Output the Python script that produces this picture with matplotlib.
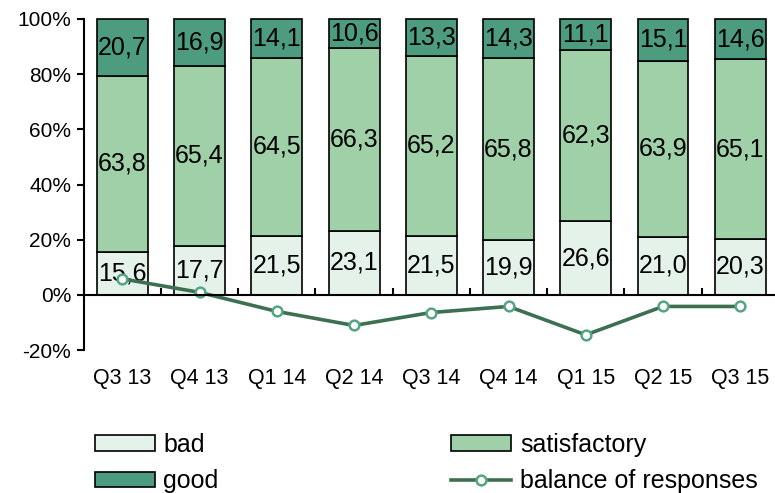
import numpy as np
import matplotlib.pyplot as plt

plt.rcParams['font.family'] = ['Liberation Sans', 'DejaVu Sans']

quarters = ["Q3 13", "Q4 13", "Q1 14", "Q2 14", "Q3 14", "Q4 14", "Q1 15", "Q2 15", "Q3 15"]
bad = [15.6, 17.7, 21.5, 23.1, 21.5, 19.9, 26.6, 21.0, 20.3]
satisfactory = [63.8, 65.4, 64.5, 66.3, 65.2, 65.8, 62.3, 63.9, 65.1]
good = [20.7, 16.9, 14.1, 10.6, 13.3, 14.3, 11.1, 15.1, 14.6]
balance = [5.8, 0.9, -6.0, -11.1, -6.4, -4.2, -14.5, -4.2, -4.2]

C_BAD = "#e4f2ea"
C_SAT = "#a0d0a8"
C_GOOD = "#4e9c80"
C_LINE = "#3c7050"

fig = plt.figure(figsize=(7.75, 4.93), dpi=100)
ax = fig.add_axes([0.108, 0.29, 0.892, 0.6715])

x = np.arange(len(quarters))
w = 0.66
bad = np.array(bad)
satisfactory = np.array(satisfactory)
good = np.array(good)

b1 = ax.bar(x, bad, w, color=C_BAD, edgecolor="black", linewidth=1.2, label="bad", clip_on=False)
b2 = ax.bar(x, satisfactory, w, bottom=bad, color=C_SAT, edgecolor="black", linewidth=1.2,
            label="satisfactory", clip_on=False)
b3 = ax.bar(x, good, w, bottom=bad + satisfactory, color=C_GOOD, edgecolor="black", linewidth=1.2,
            label="good", clip_on=False)

for bars, vals in [(b1, bad), (b2, satisfactory), (b3, good)]:
    ax.bar_label(bars, labels=[f"{v:.1f}".replace(".", ",") for v in vals],
                 label_type="center", fontsize=18, color="black")

ln, = ax.plot(x, balance, color=C_LINE, linewidth=2.6, marker="o", markersize=7,
              markerfacecolor="white", markeredgecolor="#55a585", markeredgewidth=1.8,
              label="balance of responses", zorder=5)

ax.set_ylim(-20, 100)
ax.set_xlim(-0.5, 8.45)
ax.set_yticks(np.arange(-20, 101, 20))
ax.set_yticklabels([f"{v}%" for v in range(-20, 101, 20)])

ax.spines["top"].set_visible(False)
ax.spines["right"].set_visible(False)
ax.spines["left"].set_linewidth(1.5)
ax.spines["bottom"].set_position(("data", 0))
ax.spines["bottom"].set_linewidth(1.5)
ax.spines["bottom"].set_zorder(6)

ax.set_xticks(x)
ax.set_xticklabels(quarters)
ax.set_xticks(np.arange(-0.5, 8.5, 1), minor=True)
ax.tick_params(axis="x", which="major", length=0, pad=53, labelsize=15.5)
ax.tick_params(axis="x", which="minor", direction="in", length=5, width=1.5)
ax.tick_params(axis="y", length=5, width=1.5, labelsize=15, pad=4)

fig.legend(handles=[b1, b3, b2, ln],
           labels=["bad", "good", "satisfactory", "balance of responses"],
           ncol=2, loc="upper left", bbox_to_anchor=(0.122, 0.122),
           frameon=False, fontsize=18, handlelength=2.4, handleheight=0.55,
           handletextpad=0.35, columnspacing=9.3, labelspacing=0.5,
           borderpad=0, borderaxespad=0)

fig.savefig("out.png", dpi=100)
